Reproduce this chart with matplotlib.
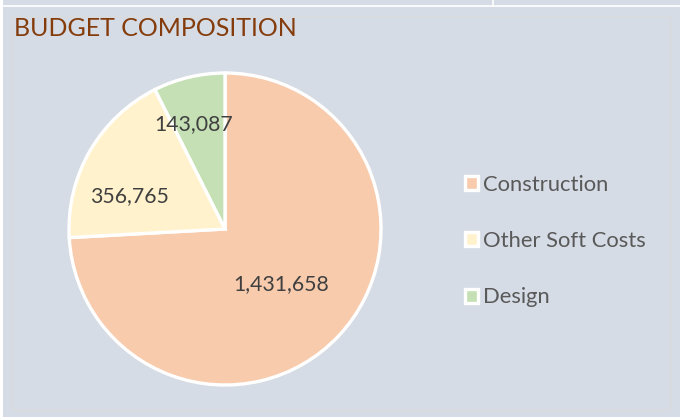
import matplotlib
matplotlib.use("Agg")
import matplotlib.pyplot as plt
from matplotlib.lines import Line2D
from matplotlib.patches import Rectangle

# data
categories = ["Construction", "Other Soft Costs", "Design"]
values = [1431658, 356765, 143087]
colors = ["#F8CBAD", "#FFF2CC", "#C5E0B4"]

plt.rcParams["font.family"] = ["Lato", "DejaVu Sans"]

W, H = 680, 417
fig = plt.figure(figsize=(W / 100, H / 100), dpi=100, facecolor="#D6DCE5")

# spreadsheet gridline artifacts and chart border
fig.add_artist(Line2D([0, 1], [1 - 5.5 / H] * 2, color="white", lw=1.2))
fig.add_artist(Line2D([493 / W] * 2, [1, 1 - 5.5 / H], color="white", lw=1.2))
fig.add_artist(Rectangle((0, 0), 2.5 / W, 1, color="white", lw=0))
fig.add_artist(Rectangle((12 / W, 1 - 410 / H), 658 / W, 394 / H,
                         fill=False, ec="#DADBDD", lw=1.0))

fig.text(14 / W, 1 - 28 / H, "BUDGET COMPOSITION", color="#843C0C",
         fontsize=18, va="center", ha="left")

# pie axes
cx, cy, r = 225, 229, 156
ax = fig.add_axes([(cx - r) / W, 1 - (cy + r) / H, 2 * r / W, 2 * r / H])
wedges, _ = ax.pie(values, colors=colors, startangle=90, counterclock=False,
                   radius=1, wedgeprops=dict(edgecolor="white", linewidth=2.4))
ax.set_xlim(-1, 1)
ax.set_ylim(-1, 1)
ax.set_aspect("equal")
ax.axis("off")

# data labels (Excel best-fit placement)
label_pos = [(0.36, -0.35), (-0.61, 0.21), (-0.20, 0.67)]
for v, (x, y) in zip(values, label_pos):
    ax.text(x, y, f"{v:,}", ha="center", va="center", fontsize=15.3,
            color="#404040")

leg = fig.legend(wedges, categories, loc="center left",
                 bbox_to_anchor=(445 / W, 1 - 241 / H), frameon=False,
                 fontsize=15.8, handlelength=0.6, handleheight=0.6,
                 handletextpad=0.25, labelspacing=1.66, labelcolor="#595959")

fig.savefig("out.png", dpi=100, facecolor=fig.get_facecolor())
